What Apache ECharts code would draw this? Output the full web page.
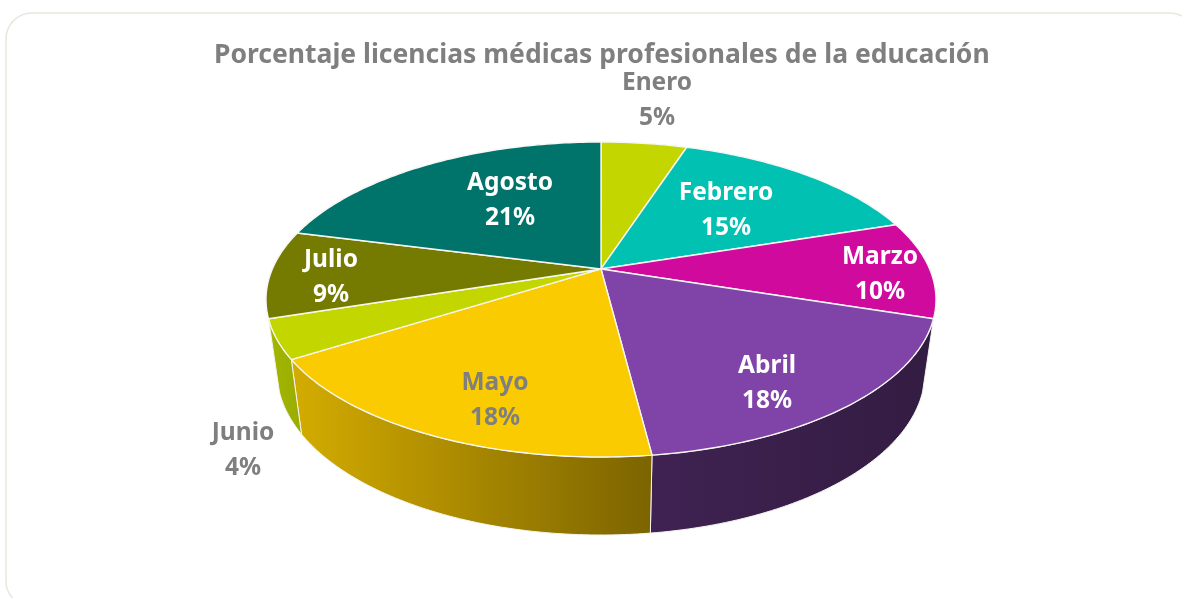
<!DOCTYPE html>
<html>
<head>
<meta charset="utf-8">
<style>html,body{margin:0;padding:0;background:#fff}#c{width:1182px;height:598px}</style>
<script src="https://cdn.jsdelivr.net/npm/echarts@6/dist/echarts.min.js"></script>
</head>
<body>
<div id="c"></div>
<script>
const titleText = 'Porcentaje licencias médicas profesionales de la educación';
const months = ['Enero','Febrero','Marzo','Abril','Mayo','Junio','Julio','Agosto'];
const percents = [5,15,10,18,18,4,9,21];

const topColors = ['#C4D600','#00C1B2','#CF0A9C','#8043A8','#FACB00','#C4D600','#757A00','#00746B'];
const wallLeft = ['#000','#000','#000','#3F2252','#D4AC00','#A3B600','#000','#000'];
const wallRight = ['#000','#000','#000','#331C42','#7C6400','#9AAD00','#000','#000'];
const labelColors = ['#7F7F7F','#fff','#fff','#fff','#7F7F7F','#7F7F7F','#fff','#fff'];
const labelCenters = [[657,101],[726,211],[880,275],[767,384],[495,401],[243,451],[331,278],[510,201]];

// Projected disc: perspective shifts the apex above the centre of the ellipse
const TOP = {cx:601, cy:299.5, rx:335, ry:157.5};
const BOT = {cx:601, cy:372, rx:324, ry:163};
const SHIFT = 0.194;
function project(e, theta){
  const u = Math.sin(theta), v = -Math.cos(theta);
  const d = 1 - SHIFT*v;
  return [e.cx + e.rx*u*Math.sqrt(1-SHIFT*SHIFT)/d, e.cy + e.ry*(v-SHIFT)/d];
}
function arc(e, a, b){
  const n = Math.max(8, Math.ceil((b-a)*60)), pts = [];
  for(let i=0;i<=n;i++) pts.push(project(e, a+(b-a)*i/n));
  return pts;
}
const total = percents.reduce((s,v)=>s+v,0);
const rows = months.map((m,i)=>[percents[i], percents.slice(0,i).reduce((s,v)=>s+v,0), i]);

function renderItem(params, api){
  const value = api.value(0), before = api.value(1), i = api.value(2);
  const a = before/total*2*Math.PI, b = (before+value)/total*2*Math.PI;
  const mid = (a+b)/2;
  const children = [];
  if(-Math.cos(mid) > SHIFT){
    const t = arc(TOP,a,b), w = arc(BOT,a,b).reverse();
    const xs = t.concat(w).map(p=>p[0]);
    children.push({
      type:'polygon', shape:{points:t.concat(w)},
      style:{
        fill:{type:'linear',global:true,x:Math.min(...xs),y:0,x2:Math.max(...xs),y2:0,
          colorStops:[{offset:0,color:wallLeft[i]},{offset:1,color:wallRight[i]}]},
        stroke:'#F4F4F0',lineWidth:1,lineJoin:'round'
      }
    });
  }
  const centre = [TOP.cx, TOP.cy - TOP.ry*SHIFT];
  children.push({
    type:'polygon',
    shape:{points:[centre].concat(arc(TOP,a,b))},
    style:{fill:topColors[i],stroke:'#F6F6F2',lineWidth:1.4,lineJoin:'round'}
  });
  children.push({
    type:'text', z2:10,
    style:{
      x:labelCenters[i][0], y:labelCenters[i][1],
      text:months[i]+'\n'+value+'%',
      fill:labelColors[i], font:'bold 24.5px "Noto Sans"', lineHeight:35,
      align:'center', verticalAlign:'middle'
    }
  });
  return {type:'group',children};
}

const chart = echarts.init(document.getElementById('c'), null, {renderer:'canvas'});
chart.setOption({
  animation:false,
  backgroundColor:'#fff',
  title:{
    text:titleText, left:209, top:37,
    textStyle:{color:'#7F7F7F',fontFamily:'Noto Sans',fontWeight:'bold',fontSize:26.5}
  },
  graphic:[{
    type:'rect', silent:true, z:-1,
    shape:{x:6,y:13,width:1190,height:594,r:26},
    style:{fill:'#fff',stroke:'#E4E9DC',lineWidth:1.5}
  }],
  series:[{type:'custom',coordinateSystem:'none',data:rows,renderItem,silent:true}]
});
</script>
</body>
</html>
